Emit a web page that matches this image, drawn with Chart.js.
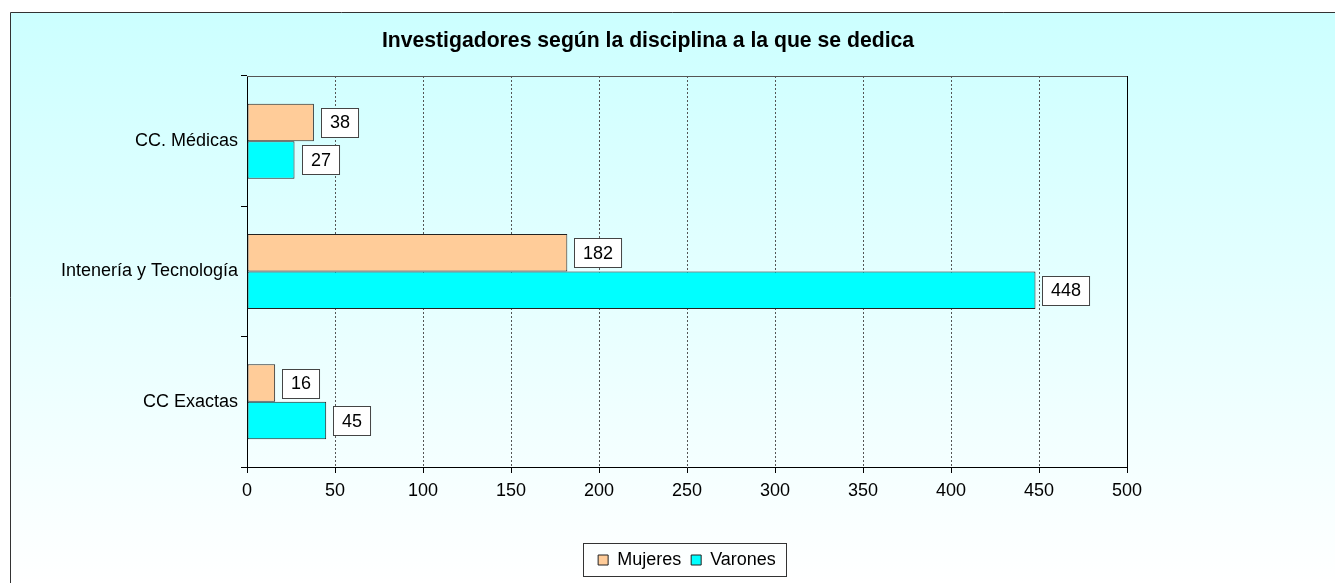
<!DOCTYPE html>
<html>
<head>
<meta charset="utf-8">
<script src="https://cdn.jsdelivr.net/npm/chart.js@4"></script>
<style>
  html, body { margin: 0; padding: 0; background: #fff; }
  #wrap { width: 1335px; height: 583px; }
</style>
</head>
<body>
<div id="wrap"><canvas id="myChart" width="1335" height="583"></canvas></div>
<script>
const ctx = document.getElementById('myChart');

// Data
const categories = ['CC. Médicas', 'Intenería y Tecnología', 'CC Exactas'];
const mujeres = [38, 182, 16];
const varones = [27, 448, 45];
const seriesNames = ['Mujeres', 'Varones'];
const xMin = 0;
const xMax = 500;
const xStep = 50;
const chartTitle = 'Investigadores según la disciplina a la que se dedica';

Chart.defaults.font.family = "'Liberation Sans', Arial, sans-serif";
Chart.defaults.font.size = 18;
Chart.defaults.color = '#000';

// gradient background + outer frame + title (title sits off-centre like the original)
const backgroundPlugin = {
    id: 'bgFrame',
    beforeDraw(chart) {
        const c = chart.ctx;
        c.save();
        const g = c.createLinearGradient(0, 12, 0, chart.height);
        g.addColorStop(0, '#ccffff');
        g.addColorStop(1, '#ffffff');
        c.fillStyle = g;
        c.fillRect(11, 13, chart.width - 11, chart.height - 13);
        c.strokeStyle = '#333';
        c.lineWidth = 1;
        c.beginPath();
        c.moveTo(10.5, chart.height);
        c.lineTo(10.5, 12.5);
        c.lineTo(chart.width, 12.5);
        c.stroke();

        c.font = "bold 21.2px 'Liberation Sans', Arial, sans-serif";
        c.fillStyle = '#000';
        c.textAlign = 'center';
        c.textBaseline = 'middle';
        c.fillText(chartTitle, 648, 41);
        c.restore();
    }
};

// top + right border of plot area
const plotFramePlugin = {
    id: 'plotFrame',
    beforeDatasetsDraw(chart) {
        const a = chart.chartArea;
        const c = chart.ctx;
        c.save();
        c.lineWidth = 1;
        c.strokeStyle = '#555';
        c.beginPath();
        c.moveTo(a.left, a.top + 0.5);
        c.lineTo(a.right, a.top + 0.5);
        c.stroke();
        c.strokeStyle = '#000';
        c.beginPath();
        c.moveTo(a.right + 0.5, a.top);
        c.lineTo(a.right + 0.5, a.bottom);
        c.stroke();
        c.restore();
    }
};

// value boxes to the right of each bar
const valueBoxPlugin = {
    id: 'valueBoxes',
    afterDatasetsDraw(chart) {
        const c = chart.ctx;
        c.save();
        c.font = "18px 'Liberation Sans', Arial, sans-serif";
        c.textAlign = 'center';
        c.textBaseline = 'middle';
        chart.data.datasets.forEach((ds, i) => {
            const meta = chart.getDatasetMeta(i);
            meta.data.forEach((bar, j) => {
                const text = String(ds.data[j]);
                const w = c.measureText(text).width + 17;
                const h = 29;
                const left = Math.round(bar.x + 7) + 0.5;
                const top = Math.round(bar.y - h / 2) + 0.5;
                c.fillStyle = '#fff';
                c.fillRect(left, top, w, h);
                c.strokeStyle = '#444';
                c.lineWidth = 1;
                c.strokeRect(left, top, w, h);
                c.fillStyle = '#000';
                c.fillText(text, left + w / 2, bar.y + 1);
            });
        });
        c.restore();
    }
};

// frame around the legend
const legendFramePlugin = {
    id: 'legendFrame',
    afterDraw(chart) {
        const boxes = chart.legend.legendHitBoxes;
        if (!boxes || boxes.length === 0) return;
        const left = Math.min(...boxes.map(b => b.left));
        const right = Math.max(...boxes.map(b => b.left + b.width));
        const top = Math.min(...boxes.map(b => b.top));
        const bottom = Math.max(...boxes.map(b => b.top + b.height));
        const c = chart.ctx;
        c.save();
        c.strokeStyle = '#333';
        c.lineWidth = 1;
        c.strokeRect(Math.round(left - 15) + 0.5, Math.round(top - 8) + 0.5,
            Math.round(right - left + 25), Math.round(bottom - top + 15));
        c.restore();
    }
};

new Chart(ctx, {
    type: 'bar',
    data: {
        labels: categories,
        datasets: [{
            label: seriesNames[0],
            data: mujeres,
            backgroundColor: '#ffcc99',
            borderColor: '#222',
            borderWidth: 1,
            borderSkipped: false
        }, {
            label: seriesNames[1],
            data: varones,
            backgroundColor: '#00ffff',
            borderColor: '#222',
            borderWidth: 1,
            borderSkipped: false
        }]
    },
    options: {
        indexAxis: 'y',
        responsive: false,
        animation: false,
        devicePixelRatio: 1,
        categoryPercentage: 0.575,
        barPercentage: 1,
        layout: {
            padding: { left: 0, right: 208, top: 76, bottom: 4 }
        },
        scales: {
            x: {
                min: xMin,
                max: xMax,
                ticks: { stepSize: xStep, padding: 7, color: '#000' },
                grid: {
                    color: (c) => (c.tick && (c.tick.value === xMin || c.tick.value === xMax)) ? 'rgba(0,0,0,0)' : '#555',
                    lineWidth: 1,
                    tickColor: '#000',
                    tickLength: 6,
                    tickBorderDash: []
                },
                border: { color: '#000', width: 1, dash: [2, 2] },
                afterFit(scale) { scale.height = 74; }
            },
            y: {
                offset: true,
                ticks: { padding: 3, color: '#000' },
                grid: {
                    offset: true,
                    drawOnChartArea: false,
                    tickColor: '#000',
                    tickLength: 6
                },
                border: { color: '#000', width: 1 },
                afterFit(scale) { scale.width = 247; }
            }
        },
        plugins: {
            title: { display: false },
            legend: {
                position: 'bottom',
                fullSize: false,
                labels: {
                    boxWidth: 10,
                    boxHeight: 10,
                    padding: 10,
                    color: '#000',
                    font: { size: 18 }
                }
            },
            tooltip: { enabled: false }
        }
    },
    plugins: [backgroundPlugin, plotFramePlugin, valueBoxPlugin, legendFramePlugin]
});
</script>
</body>
</html>
